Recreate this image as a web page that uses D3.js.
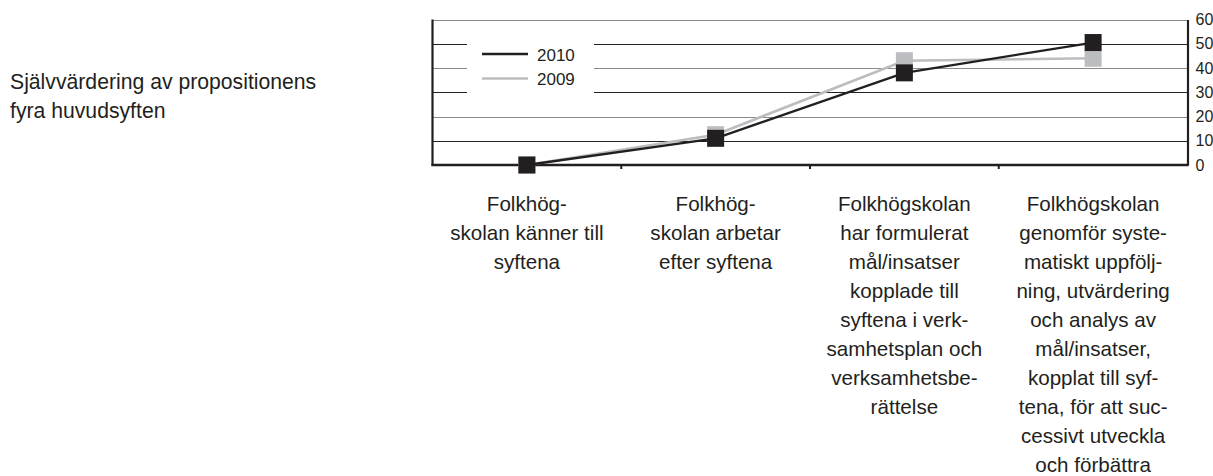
<!DOCTYPE html>
<html><head><meta charset="utf-8">
<script src="https://cdn.jsdelivr.net/npm/d3@7/dist/d3.min.js"></script>
<style>
html,body{margin:0;padding:0;background:#fff;}
svg{display:block;font-family:"Liberation Sans",Arial,sans-serif;}
</style></head>
<body>
<script>
const categories = [
  ["Folkhög-","skolan känner till","syftena"],
  ["Folkhög-","skolan arbetar","efter syftena"],
  ["Folkhögskolan","har formulerat","mål/insatser","kopplade till","syftena i verk-","samhetsplan och","verksamhetsbe-","rättelse"],
  ["Folkhögskolan","genomför syste-","matiskt uppfölj-","ning, utvärdering","och analys av","mål/insatser,","kopplat till syf-","tena, för att suc-","cessivt utveckla","och förbättra"]
];
const series2010 = [0, 11, 38, 50.5];
const series2009 = [0, 12.5, 43, 44];
const seriesNames = ["2010", "2009"];
const yTicks = [0, 10, 20, 30, 40, 50, 60];
const titleLines = ["Självvärdering av propositionens", "fyra huvudsyften"];

(function () {
const W = 1213, H = 476;
const svg = d3.select("body").append("svg").attr("width", W).attr("height", H);

const pLeft = 432.5, pRight = 1187.5, pTop = 19.5, pBottom = 165;
const x = d3.scaleBand().domain(d3.range(categories.length)).range([pLeft, pRight]).padding(0);
const y = d3.scaleLinear().domain([0, 60]).range([pBottom, pTop]);

// title
const title = svg.append("text").attr("x", 10).attr("y", 89.3)
  .attr("font-size", 21.2).attr("fill", "#231f20");
titleLines.forEach((t, i) => title.append("tspan").attr("x", 10).attr("dy", i ? 29 : 0).text(t));

// gridlines
const gridColors = ["#231f20", "#222", "#8a8a8a", "#222", "#8a8a8a", "#222", "#8a8a8a"];
svg.append("g").selectAll("line").data(yTicks.filter(d => d > 0)).join("line")
  .attr("x1", pLeft).attr("x2", pRight)
  .attr("y1", d => Math.round(y(d)) + 0.5).attr("y2", d => Math.round(y(d)) + 0.5)
  .attr("stroke", (d, i) => gridColors[i + 1]).attr("stroke-width", 1.2);

// legend background (white box interrupting gridlines)
svg.append("rect").attr("x", 467).attr("y", 30).attr("width", 127).attr("height", 70).attr("fill", "#fff");

// left axis line
svg.append("line").attr("x1", pLeft).attr("x2", pLeft).attr("y1", pTop).attr("y2", pBottom + 1)
  .attr("stroke", "#231f20").attr("stroke-width", 2.2);

// right axis
const yAxis = d3.axisRight(y).tickValues(yTicks).tickSize(0).tickPadding(8);
const ya = svg.append("g").attr("transform", `translate(${pRight},0)`).call(yAxis);
ya.select(".domain").attr("stroke", "#231f20").attr("stroke-width", 2.2);
ya.selectAll("text").attr("font-size", 16).attr("fill", "#231f20")
  .attr("font-family", "'Liberation Sans',Arial,sans-serif");

// x axis baseline with ticks at band boundaries
const boundaries = d3.range(1, categories.length).map(i => x(i));
svg.append("line").attr("x1", pLeft - 1).attr("x2", pRight + 1).attr("y1", pBottom).attr("y2", pBottom)
  .attr("stroke", "#231f20").attr("stroke-width", 2.5);
svg.append("g").selectAll("line").data(boundaries).join("line")
  .attr("x1", d => d).attr("x2", d => d).attr("y1", pBottom).attr("y2", pBottom + 4)
  .attr("stroke", "#231f20").attr("stroke-width", 2);

// category labels
categories.forEach((lines, i) => {
  const t = svg.append("text").attr("text-anchor", "middle").attr("font-size", 20.6).attr("fill", "#231f20")
    .attr("y", 210.5);
  lines.forEach((ln, j) => t.append("tspan").attr("x", x(i) + x.bandwidth() / 2).attr("dy", j ? 29.05 : 0).text(ln));
});

const cx = i => x(i) + x.bandwidth() / 2;
const line = d3.line().x((d, i) => cx(i)).y(d => y(d));
const ms = 17;

function drawSeries(data, color, width) {
  svg.append("path").datum(data).attr("d", line).attr("fill", "none")
    .attr("stroke", color).attr("stroke-width", width).attr("stroke-linejoin", "miter");
  svg.append("g").selectAll("rect").data(data).join("rect")
    .attr("x", (d, i) => cx(i) - ms / 2).attr("y", d => y(d) - ms / 2)
    .attr("width", ms).attr("height", ms).attr("fill", color);
}
drawSeries(series2009, "#bcbdc0", 2.6);
drawSeries(series2010, "#231f20", 2.3);

// legend
const legend = [{name: seriesNames[0], color: "#231f20", w: 2.3, y: 54}, {name: seriesNames[1], color: "#bcbdc0", w: 2.6, y: 78.5}];
legend.forEach(l => {
  svg.append("line").attr("x1", 482).attr("x2", 528).attr("y1", l.y).attr("y2", l.y)
    .attr("stroke", l.color).attr("stroke-width", l.w);
  svg.append("text").attr("x", 537).attr("y", l.y + 6.5).attr("font-size", 17).attr("fill", "#231f20").text(l.name);
});
})();
</script>
</body></html>
